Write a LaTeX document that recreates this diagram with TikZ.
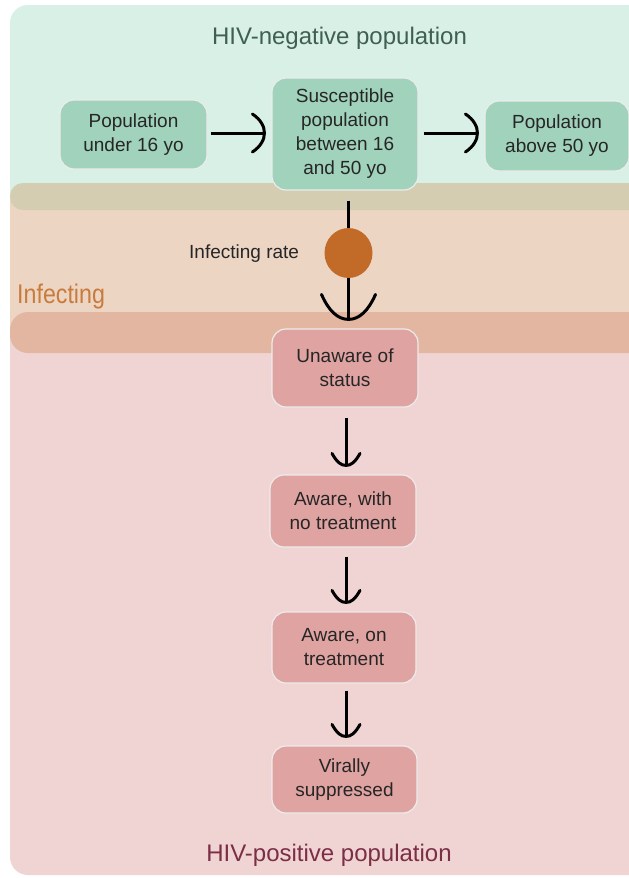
\documentclass[tikz,border=0pt]{standalone}
\usepackage{fontspec}
\setmainfont{Liberation Sans}
\newfontfamily\narrowfont[FakeStretch=0.86]{Liberation Sans}
\usetikzlibrary{calc}
\definecolor{bggreen}{HTML}{D9F0E6}
\definecolor{gboxc}{HTML}{A0D2BC}
\definecolor{oliveband}{HTML}{D4CDB1}
\definecolor{peach}{HTML}{EDD5C4}
\definecolor{pinkband}{HTML}{E2B6A1}
\definecolor{pinkbg}{HTML}{F0D4D4}
\definecolor{pboxc}{HTML}{DFA3A1}
\definecolor{ratec}{HTML}{C26B28}
\definecolor{titlegreen}{HTML}{3F5F52}
\definecolor{infc}{HTML}{C97B3C}
\definecolor{titlepink}{HTML}{7B2E44}
\tikzset{
  boxbase/.style={rounded corners=14pt, draw=white!85!gray, line width=1.2pt,
    align=center, inner sep=2pt, font=\fontsize{19}{24}\selectfont, text=black!85},
  gbox/.style={boxbase, fill=gboxc},
  pbox/.style={boxbase, fill=pboxc},
  plainline/.style={line width=3pt},
  pics/hhead/.style={code={\draw[line width=3pt, line cap=round]
     (-12,-19) .. controls (-3,-13) and (0,-6) .. (0,0) .. controls (0,6) and (-3,13) .. (-12,19);}},
  pics/vhead/.style={code={\draw[line width=3pt, line cap=round]
     (-14,-12) .. controls (-9,-3) and (-5,0) .. (0,0) .. controls (5,0) and (9,-3) .. (14,-12);}},
  pics/bighead/.style={code={\draw[line width=3pt, line cap=round]
     (-27,-25) .. controls (-20,-9) and (-11,0) .. (0,0) .. controls (11,0) and (20,-9) .. (27,-25);}}
}
\begin{document}
\begin{tikzpicture}[x=1pt,y=-1pt]
\useasboundingbox (0,0) rectangle (629,878);
\begin{scope}
\clip (0,0) rectangle (629,878);
\fill[white] (0,0) rectangle (629,878);
\fill[bggreen, rounded corners=18pt] (10,5) rectangle (680,212);
\fill[peach, rounded corners=18pt] (10,183) rectangle (680,353);
\fill[pinkbg, rounded corners=18pt] (10,312) rectangle (680,875);
\fill[oliveband, rounded corners=13pt] (10,183) rectangle (680,210);
\fill[pinkband, rounded corners=18pt] (10,312) rectangle (680,353);

\node[font=\fontsize{24}{28}\selectfont, text=titlegreen] (tneg) at (339.5,38) {HIV-negative population};
\node[font=\narrowfont\fontsize{27}{30}\selectfont, text=infc, anchor=base west, inner sep=0pt] (tinf) at (17,303) {Infecting};
\node[font=\fontsize{24}{28}\selectfont, text=titlepink] (tpos) at (329,855) {HIV-positive population};

\node[gbox, minimum width=147pt, minimum height=69pt] (n16) at (133.5,134.5) {Population\\under 16 yo};
\node[gbox, minimum width=146pt, minimum height=112pt] (sus) at (345,134) {Susceptible\\population\\between 16\\and 50 yo};
\node[gbox, minimum width=144pt, minimum height=70pt] (a50) at (557,136) {Population\\above 50 yo};

\node[circle, fill=ratec, minimum size=48pt, inner sep=0pt, yscale=1.04] (rate) at (348.5,253) {};
\node[font=\fontsize{19}{23}\selectfont, text=black!85, anchor=base west, inner sep=0pt] (ratelbl) at (189,258) {Infecting rate};

\node[pbox, minimum width=146pt, minimum height=78pt] (unaware) at (345,368) {Unaware of\\status};
\node[pbox, minimum width=146pt, minimum height=72pt] (awareno) at (343,511) {Aware, with\\no treatment};
\node[pbox, minimum width=144pt, minimum height=71pt] (awareon) at (344,647.5) {Aware, on\\treatment};
\node[pbox, minimum width=145pt, minimum height=67pt] (viral) at (344.5,779.5) {Virally\\suppressed};

% horizontal connectors
\draw[plainline, shorten <=3pt, shorten >=7pt] (n16.east |- 0,133) -- (sus.west |- 0,133);
\pic at ($(sus.west |- 0,133)+(-7,0)$) {hhead};
\draw[plainline, shorten <=5pt, shorten >=7pt] (sus.east |- 0,133) -- (a50.west |- 0,133);
\pic at ($(a50.west |- 0,133)+(-7,0)$) {hhead};

% infection flow
\draw[plainline, shorten <=10pt] (rate.north |- sus.south) -- (rate.north);
\draw[plainline, shorten >=9pt] (rate.south) -- (rate.south |- unaware.north);
\pic at ($(rate.south |- unaware.north)+(0,-9)$) {bighead};

% cascade
\draw[plainline, shorten <=10pt, shorten >=9pt] (unaware.south -| 346,0) -- (awareno.north -| 346,0);
\pic at ($(awareno.north -| 346,0)+(0,-9)$) {vhead};
\draw[plainline, shorten <=9pt, shorten >=9pt] (awareno.south -| 346,0) -- (awareon.north -| 346,0);
\pic at ($(awareon.north -| 346,0)+(0,-9)$) {vhead};
\draw[plainline, shorten <=7pt, shorten >=9pt] (awareon.south -| 346,0) -- (viral.north -| 346,0);
\pic at ($(viral.north -| 346,0)+(0,-9)$) {vhead};
\end{scope}
\end{tikzpicture}
\end{document}
